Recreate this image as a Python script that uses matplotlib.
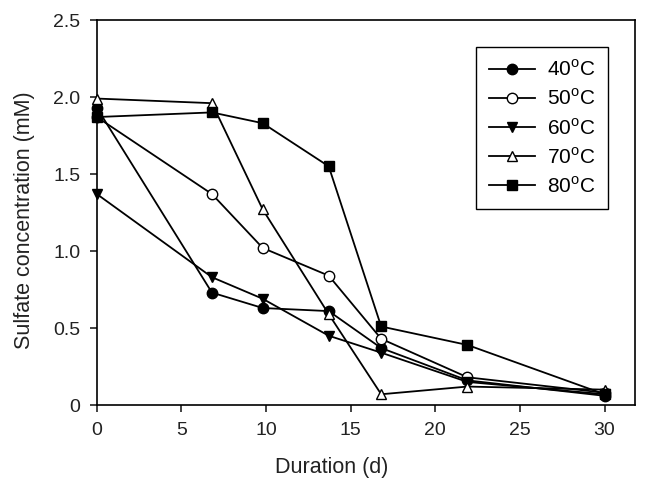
import matplotlib
matplotlib.use("Agg")
import matplotlib.pyplot as plt

plt.rcParams['font.family'] = ['Liberation Sans', 'DejaVu Sans']
plt.rcParams['mathtext.fontset'] = 'custom'
plt.rcParams['mathtext.rm'] = 'Liberation Sans'

days = [0, 6.8, 9.8, 13.7, 16.8, 21.9, 30]
s40 = [1.93, 0.73, 0.63, 0.61, 0.37, 0.16, 0.06]
s50 = [1.87, 1.37, 1.02, 0.84, 0.43, 0.18, 0.08]
s60 = [1.37, 0.83, 0.69, 0.45, 0.34, 0.15, 0.07]
s70 = [1.99, 1.96, 1.27, 0.59, 0.07, 0.12, 0.10]
s80 = [1.87, 1.90, 1.83, 1.55, 0.51, 0.39, 0.07]
labels = ['40$^{\\mathrm{o}}$C', '50$^{\\mathrm{o}}$C', '60$^{\\mathrm{o}}$C',
          '70$^{\\mathrm{o}}$C', '80$^{\\mathrm{o}}$C']
xticks = [0, 5, 10, 15, 20, 25, 30]
yticks = [0, 0.5, 1.0, 1.5, 2.0, 2.5]
yticklabels = ['0', '0.5', '1.0', '1.5', '2.0', '2.5']

fig = plt.figure(figsize=(6.5, 4.88), dpi=100)
ax = fig.add_axes([0.149, 0.170, 0.828, 0.789])

styles = [('o', 'black'), ('o', 'white'), ('v', 'black'), ('^', 'white'), ('s', 'black')]
series = [s40, s50, s60, s70, s80]
for s, (m, fc), lab in zip(series, styles, labels):
    ax.plot(days, s, color='black', lw=1.3, marker=m, markersize=7.5,
            markerfacecolor=fc, markeredgecolor='black', markeredgewidth=1.0,
            label=lab, clip_on=False, zorder=3)

ax.set_xlim(0, 31.8)
ax.set_ylim(0, 2.5)
ax.set_xticks(xticks)
ax.set_yticks(yticks)
ax.set_yticklabels(yticklabels)
ax.tick_params(direction='out', length=5, width=1.2, labelsize=14, colors='#222222')
ax.tick_params(axis='x', pad=7)
ax.tick_params(axis='y', pad=7)
for sp in ax.spines.values():
    sp.set_linewidth(1.2)
ax.set_xlabel('Duration (d)', fontsize=15.5, color='#222222')
ax.set_ylabel('Sulfate concentration (mM)', fontsize=15.5, color='#222222')
ax.xaxis.set_label_coords(0.437, -0.135)
ax.yaxis.set_label_coords(-0.114, 0.48)

leg = ax.legend(loc='upper right', bbox_to_anchor=(0.950, 0.930), borderaxespad=0,
                fontsize=15, frameon=True, fancybox=False, edgecolor='black',
                framealpha=1, handlelength=2.2, labelspacing=0.4, borderpad=0.6,
                handletextpad=0.6)
leg.get_frame().set_linewidth(1.0)

fig.savefig('out.png', dpi=100)
